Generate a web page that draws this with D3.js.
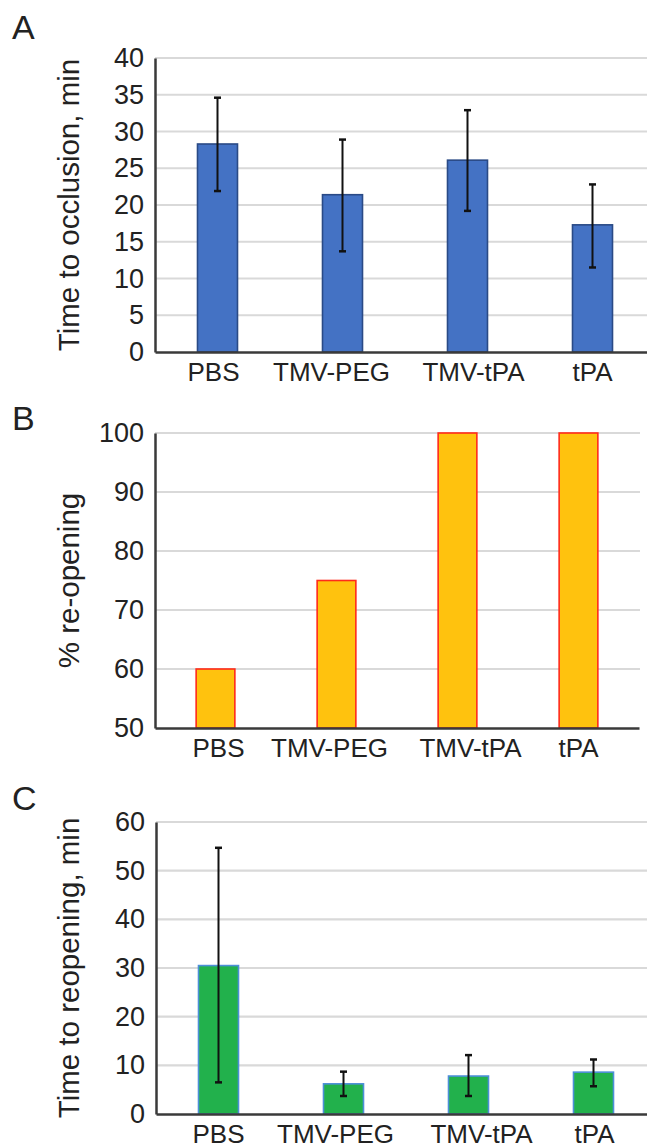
<!DOCTYPE html>
<html>
<head>
<meta charset="utf-8">
<script src="https://cdn.jsdelivr.net/npm/d3@7"></script>
<style>
  html, body { margin: 0; padding: 0; background: #fff; }
  svg { display: block; }
  text { font-family: "Liberation Sans", Arial, Helvetica, sans-serif; fill: #222; }
</style>
</head>
<body>
<div id="chart"></div>
<script>
// ---------- data ----------
const categories = ["PBS", "TMV-PEG", "TMV-tPA", "tPA"];

// Panel A: time to occlusion (min), mean with error range
const occlusionMean = [28.3, 21.4, 26.1, 17.3];
const occlusionLow  = [21.9, 13.7, 19.2, 11.5];
const occlusionHigh = [34.6, 28.9, 32.9, 22.8];
const occlusionTicks = [0, 5, 10, 15, 20, 25, 30, 35, 40];

// Panel B: % re-opening
const reopeningPercent = [60, 75, 100, 100];
const reopeningPercentTicks = [50, 60, 70, 80, 90, 100];

// Panel C: time to reopening (min), mean with error range
const reopenMean = [30.5, 6.2, 7.8, 8.6];
const reopenLow  = [6.5, 3.7, 3.7, 5.7];
const reopenHigh = [54.7, 8.7, 12.1, 11.2];
const reopenTicks = [0, 10, 20, 30, 40, 50, 60];

const panelLetters = ["A", "B", "C"];
const axisTitles = ["Time to occlusion, min", "% re-opening", "Time to reopening, min"];

// ---------- layout ----------
const W = 647, H = 1148;
const svg = d3.select("#chart").append("svg")
  .attr("width", W).attr("height", H)
  .attr("viewBox", `0 0 ${W} ${H}`);
svg.append("rect").attr("width", W).attr("height", H).attr("fill", "#fff");

const panels = [
  {
    letter: panelLetters[0], title: axisTitles[0],
    letterY: 39, x0: 155, x1: 655, gridEnd: 647, yTop: 58, yBottom: 352,
    domain: [0, 40], ticks: occlusionTicks,
    values: occlusionMean, low: occlusionLow, high: occlusionHigh,
    fill: "#4472c4", stroke: "#2a4a86",
    labelNudge: [-4, -11, 6, 0]
  },
  {
    letter: panelLetters[1], title: axisTitles[1],
    letterY: 430, x0: 155, x1: 639, gridEnd: 640, yTop: 433, yBottom: 728,
    domain: [50, 100], ticks: reopeningPercentTicks,
    values: reopeningPercent, low: null, high: null,
    fill: "#ffc20e", stroke: "#ff2a1a",
    labelNudge: [3, -7, 13, 0]
  },
  {
    letter: panelLetters[2], title: axisTitles[2],
    letterY: 810, x0: 156, x1: 656, gridEnd: 647, yTop: 822, yBottom: 1114,
    domain: [0, 60], ticks: reopenTicks,
    values: reopenMean, low: reopenLow, high: reopenHigh,
    fill: "#22b14c", stroke: "#4d8fd8",
    labelNudge: [0, -8, 13, 1]
  }
];

panels.forEach(p => {
  const g = svg.append("g");

  const x = d3.scaleBand().domain(categories)
    .range([p.x0, p.x1]).paddingInner(0.68).paddingOuter(0.34);
  const y = d3.scaleLinear().domain(p.domain).range([p.yBottom, p.yTop]);

  // panel letter
  g.append("text").attr("x", 12).attr("y", p.letterY)
    .attr("font-size", 34).text(p.letter);

  // gridlines
  g.append("g").selectAll("line")
    .data(p.ticks.filter(t => t !== p.domain[0]))
    .join("line")
    .attr("x1", p.x0).attr("x2", p.gridEnd)
    .attr("y1", d => y(d)).attr("y2", d => y(d))
    .attr("stroke", "#d9d9d9").attr("stroke-width", 2.2);

  // bars
  g.append("g").selectAll("rect")
    .data(categories.map((c, i) => ({ c, v: p.values[i] })))
    .join("rect")
    .attr("x", d => x(d.c))
    .attr("width", x.bandwidth())
    .attr("y", d => y(d.v))
    .attr("height", d => y(p.domain[0]) - y(d.v))
    .attr("fill", p.fill)
    .attr("stroke", p.stroke).attr("stroke-width", 1.6);

  // error bars
  if (p.low) {
    const eb = g.append("g").attr("stroke", "#111").attr("stroke-width", 2);
    categories.forEach((c, i) => {
      const cx = x(c) + x.bandwidth() / 2;
      eb.append("line").attr("x1", cx).attr("x2", cx)
        .attr("y1", y(p.low[i])).attr("y2", y(p.high[i]));
      [p.low[i], p.high[i]].forEach(v => {
        eb.append("line").attr("x1", cx - 3.5).attr("x2", cx + 3.5)
          .attr("y1", y(v)).attr("y2", y(v)).attr("stroke-width", 2.5);
      });
    });
  }

  // y axis
  const yAxis = g.append("g").attr("transform", `translate(${p.x0},0)`)
    .call(d3.axisLeft(y).tickValues(p.ticks).tickSize(0).tickSizeOuter(0).tickPadding(11));
  yAxis.select(".domain").attr("stroke", "#3a3a3a").attr("stroke-width", 2.5);
  yAxis.selectAll("text").attr("font-size", 27).attr("fill", "#222")
    .attr("font-family", "'Liberation Sans', Arial, sans-serif");

  // x axis
  const xAxis = g.append("g").attr("transform", `translate(0,${p.yBottom})`)
    .call(d3.axisBottom(x).tickSize(0).tickSizeOuter(0).tickPadding(11));
  xAxis.select(".domain").attr("stroke", "#3a3a3a").attr("stroke-width", 2.5);
  xAxis.selectAll("text").attr("font-size", 26).attr("fill", "#222")
    .attr("font-family", "'Liberation Sans', Arial, sans-serif")
    .attr("dx", (d, i) => p.labelNudge[i]);

  // y axis title
  g.append("text")
    .attr("transform", `translate(79,${(p.yTop + p.yBottom) / 2}) rotate(-90)`)
    .attr("text-anchor", "middle")
    .attr("font-size", 29.5)
    .text(p.title);
});
</script>
</body>
</html>
